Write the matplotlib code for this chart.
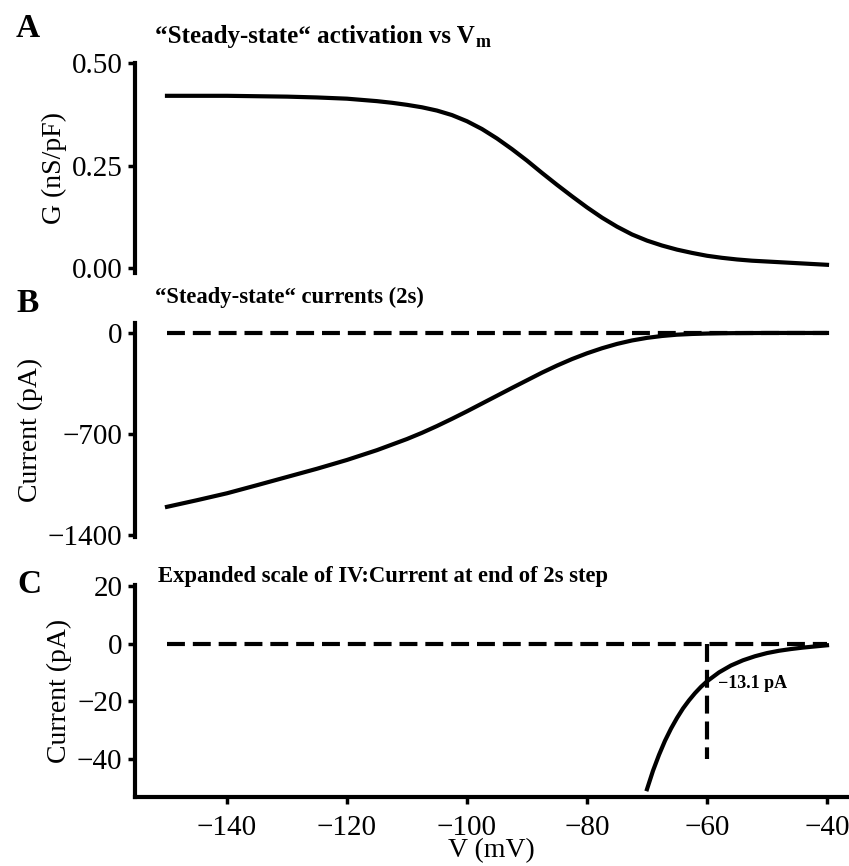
import matplotlib
matplotlib.use("Agg")
import matplotlib.pyplot as plt

plt.rcParams['font.family'] = ['Liberation Serif', 'DejaVu Serif']

# ---- data ----
v_a = [-150, -145, -140, -135, -130, -125, -120, -117.5, -115, -112.5, -110, -107.5,
       -105, -102.5, -100, -97.5, -95, -92.5, -90, -87.5, -85, -82.5, -80, -77.5,
       -75, -72.5, -70, -67.5, -65, -62.5, -60, -57.5, -55, -52.5, -50, -47.5,
       -45, -42.5, -40]
g_ss = [0.420, 0.420, 0.420, 0.419, 0.418, 0.416, 0.413, 0.410, 0.407, 0.403,
        0.398, 0.392, 0.384, 0.373, 0.358, 0.339, 0.316, 0.290, 0.262, 0.232,
        0.203, 0.175, 0.148, 0.123, 0.101, 0.082, 0.067, 0.055, 0.045, 0.037,
        0.030, 0.025, 0.021, 0.018, 0.016, 0.014, 0.012, 0.010, 0.008]
v_b = [-150, -145, -140, -135, -130, -125, -120, -115, -110, -107.5, -105, -102.5,
       -100, -97.5, -95, -92.5, -90, -87.5, -85, -82.5, -80, -77.5, -75, -72.5,
       -70, -67.5, -65, -62.5, -60, -57.5, -55, -50, -45, -40]
i_ss = [-1205, -1159, -1111, -1055, -998, -941, -880, -812, -735, -692, -645,
        -595, -543, -489, -435, -381, -328, -275, -226, -181, -141, -106, -76,
        -52, -34, -21, -12, -7, -4, -2, -1, 0, 0, 0]
v_c = [-70, -69, -68, -67, -66, -65, -64, -63, -62, -61, -60, -58, -56, -54,
       -52, -50, -48, -46, -44, -42, -40]
i_c = [-50.5, -44.1, -38.6, -33.7, -29.5, -25.8, -22.5, -19.7, -17.2, -15.0,
       -13.1, -10.0, -7.6, -5.8, -4.4, -3.3, -2.5, -1.9, -1.4, -1.0, -0.6]
v_mark = -60
i_mark = -13.1
zero_range = [-150, -40]

xticks = [-140, -120, -100, -80, -60, -40]
a_yticks = [0.0, 0.25, 0.5]
a_yticklabels = ['0.00', '0.25', '0.50']
b_yticks = [-1400, -700, 0]
c_yticks = [-40, -20, 0, 20]

W, H = 849, 866
fig = plt.figure(figsize=(W / 100, H / 100), dpi=100)

def ax_px(left, top, right, bottom):
    return fig.add_axes([left / W, 1 - bottom / H, (right - left) / W, (bottom - top) / H])

XL = (-155.33, -36.5)
LW = 3.0
DASH = (4.3, 1.9)
TFS = 21

def style(ax, show_x):
    for s in ['top', 'right']:
        ax.spines[s].set_visible(False)
    ax.spines['left'].set_linewidth(LW)
    ax.spines['bottom'].set_linewidth(LW)
    ax.tick_params(axis='y', width=2.5, length=5, labelsize=TFS, pad=4)
    ax.tick_params(axis='x', width=2.5, length=5, labelsize=TFS, pad=8)
    ax.set_xlim(*XL)
    if not show_x:
        ax.spines['bottom'].set_visible(False)
        ax.set_xticks([])

# Panel A
axA = ax_px(135, 63, 848, 273)
style(axA, False)
axA.plot(v_a, g_ss, color='black', lw=LW, solid_joinstyle='round')
axA.set_ylim(-0.012, 0.5)
axA.set_yticks(a_yticks)
axA.set_yticklabels(a_yticklabels)
axA.set_ylabel('G (nS/pF)', fontsize=20, va='center')
axA.yaxis.set_label_coords((54 - 135) / 713, 0.5)

# Panel B
axB = ax_px(135, 323, 848, 537)
style(axB, False)
axB.plot(zero_range, [0, 0], color='black', lw=LW, dashes=DASH)
axB.plot(v_b, i_ss, color='black', lw=LW, solid_joinstyle='round')
axB.set_ylim(-1414, 69)
axB.set_yticks(b_yticks)
axB.set_ylabel('Current (pA)', fontsize=20, va='center')
axB.yaxis.set_label_coords((30 - 135) / 713, 0.5)

# Panel C
axC = ax_px(135, 585, 848, 797)
style(axC, True)
axC.plot(zero_range, [0, 0], color='black', lw=LW, dashes=DASH)
axC.plot([v_mark, v_mark], [0, -40], color='black', lw=LW, dashes=DASH)
axC.plot(v_c, i_c, color='black', lw=LW, solid_joinstyle='round')
axC.set_ylim(-53.2, 20.3)
axC.set_yticks(c_yticks)
axC.set_xticks(xticks)
axC.set_ylabel('Current (pA)', fontsize=20, va='center')
axC.yaxis.set_label_coords((59 - 135) / 713, 0.5)
axC.set_xlabel('V (mV)', fontsize=20, labelpad=-2)
axC.text(v_mark + 1.9, i_mark - 0.9, '\u221213.1 pA', fontsize=13,
         fontweight='bold', va='center', ha='left')

# Titles and panel letters
def ftext(x, y, s, **kw):
    return fig.text(x / W, 1 - y / H, s, va='baseline', ha='left', **kw)

tA = ftext(155, 43, '\u201cSteady-state\u201c activation vs V', fontsize=18, fontweight='bold')
fig.canvas.draw()
bb = tA.get_window_extent(renderer=fig.canvas.get_renderer())
fig.text((bb.x1 + 1) / W, (H - 47) / H, 'm', fontsize=13, fontweight='bold',
         va='baseline', ha='left')
ftext(155, 303, '\u201cSteady-state\u201c currents (2s)', fontsize=16.3, fontweight='bold')
ftext(158, 582, 'Expanded scale of IV:Current at end of 2s step', fontsize=16.3, fontweight='bold')
ftext(16, 37, 'A', fontsize=24, fontweight='bold')
ftext(16, 312, 'B', fontsize=24, fontweight='bold')
ftext(17, 593, 'C', fontsize=24, fontweight='bold')

fig.savefig('out.png', dpi=100)
